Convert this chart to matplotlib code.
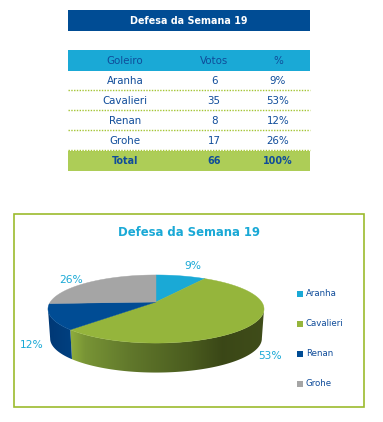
import numpy as np
import matplotlib
matplotlib.use("Agg")
import matplotlib.pyplot as plt
from matplotlib.patches import Rectangle, Polygon

# ---- data ----
table_title = "Defesa da Semana 19"
headers = ["Goleiro", "Votos", "%"]
players = ["Aranha", "Cavalieri", "Renan", "Grohe"]
votes = [6, 35, 8, 17]
percents = ["9%", "53%", "12%", "26%"]
total_row = ["Total", "66", "100%"]

# ---- style ----
W, H = 383, 422
NAVY = "#004C94"
CYAN = "#1AA9D6"
GREEN = "#95B53C"
TOTAL_GREEN = "#ADCD57"
GRAY = "#A5A5A5"
TEXT = "#0F4C9A"
slice_colors = [CYAN, GREEN, NAVY, GRAY]
plt.rcParams["font.family"] = ["DejaVu Sans"]
FS = 7.4

fig = plt.figure(figsize=(W / 100, H / 100), dpi=100, facecolor="white")
ax = fig.add_axes([0, 0, 1, 1])


def rect(x0, y0, x1, y1, **kw):
    ax.add_patch(Rectangle((x0, y0), x1 - x0, y1 - y0, **kw))


# ---- table ----
TX0, TX1 = 68, 310
rect(TX0, 10, TX1, 31, fc=NAVY, ec="none")
ax.text(189, 21, table_title, color="white", fontsize=6.9, fontweight="bold",
        ha="center", va="center")
rect(TX0, 50, TX1, 71, fc=CYAN, ec="none")
cols = [125, 214, 278]
for cx, h in zip(cols, headers):
    ax.text(cx, 61.5, h, color=TEXT, fontsize=FS, ha="center", va="center")
for i, (p, v, pc) in enumerate(zip(players, votes, percents)):
    yc = 81.5 + 20 * i
    for cx, t in zip(cols, [p, str(v), pc]):
        ax.text(cx, yc, t, color=TEXT, fontsize=FS, ha="center", va="center")
    ax.plot([TX0, TX1], [yc + 8.8] * 2, color="#A5C534", lw=1.0, ls=(0, (1, 1)))
rect(TX0, 151, TX1, 171, fc=TOTAL_GREEN, ec="none")
for cx, t in zip(cols, total_row):
    ax.text(cx, 161.5, t, color=TEXT, fontsize=6.9, fontweight="bold", ha="center", va="center")

# ---- chart frame ----
rect(13.5, 213.5, 364, 407, fc="white", ec="#9CBB2E", lw=1.2)
ax.text(189, 232.5, table_title, color=CYAN, fontsize=8.4, fontweight="bold", ha="center", va="center")

# ---- 3D pie (perspective projection of a disc) ----
CX, CY, BX, AY, K, DEPTH, BOTTOM_X = 156.0, 302.0, 105.7, 32.6, 0.206, 29.5, 0.98


def project(theta):
    u, v = np.sin(theta), np.cos(theta)
    w = 1 + K * v
    return CX + BX * u / w, CY - AY * v / w


fractions = np.array(votes, float) / sum(votes)
edges = np.concatenate([[0], np.cumsum(fractions)]) * 2 * np.pi

# the visible wall runs between the two silhouette points of the rim
sil_right = np.pi / 2 + np.arcsin(K)
sil_left = 3 * np.pi / 2 - np.arcsin(K)

# side walls, gradient images clipped to the wall outline
wall_stops = {
    1: ([69, 85, 130, 190, 222, 264], [(0.57, 0.69, 0.24), (0.47, 0.58, 0.21), (0.38, 0.47, 0.17),
                                       (0.29, 0.36, 0.12), (0.23, 0.28, 0.09), (0.25, 0.30, 0.10)]),
    2: ([48, 70], [(0.0, 0.22, 0.46), (0.0, 0.25, 0.50)]),
}
xgrid = np.arange(40, 270, 0.5)
for i, (sx, scol) in wall_stops.items():
    th = np.linspace(max(edges[i], sil_right), min(edges[i + 1], sil_left), 200)
    xs, ys = project(th)
    lx = CX + (xs - CX) * BOTTOM_X
    ly = ys + DEPTH
    outline = np.column_stack([np.r_[xs, lx[::-1]], np.r_[ys, ly[::-1]]])
    clip = Polygon(outline, closed=True, fc="none", ec="none", transform=ax.transData)
    ax.add_patch(clip)
    scol = np.array(scol)
    img = np.stack([np.interp(xgrid, sx, scol[:, c]) for c in range(3)], axis=-1)[None, :, :]
    im = ax.imshow(img, extent=(xgrid[0], xgrid[-1], 380, 270), aspect="auto",
                   interpolation="bilinear", zorder=1)
    im.set_clip_path(clip)

# top faces
for i, col in enumerate(slice_colors):
    th = np.linspace(edges[i], edges[i + 1], 120)
    xs, ys = project(th)
    pts = [(CX, CY)] + list(zip(xs, ys))
    ax.add_patch(Polygon(pts, closed=True, fc=col, ec=col, lw=0.3, zorder=2))

# pie labels
label_pos = [(193, 266), (270, 356), (32, 345), (71, 280)]
for (lx, ly), t in zip(label_pos, percents):
    ax.text(lx, ly, t, color=CYAN, fontsize=7.7, ha="center", va="center")

# legend
leg_y = [294, 324, 354, 384]
for yy, p, col in zip(leg_y, players, slice_colors):
    rect(297, yy - 3, 303, yy + 3, fc=col, ec="none")
    ax.text(306, yy, p, color=TEXT, fontsize=6.2, ha="left", va="center")

ax.set_xlim(0, W)
ax.set_ylim(H, 0)
ax.axis("off")
fig.savefig("out.png", dpi=100)
